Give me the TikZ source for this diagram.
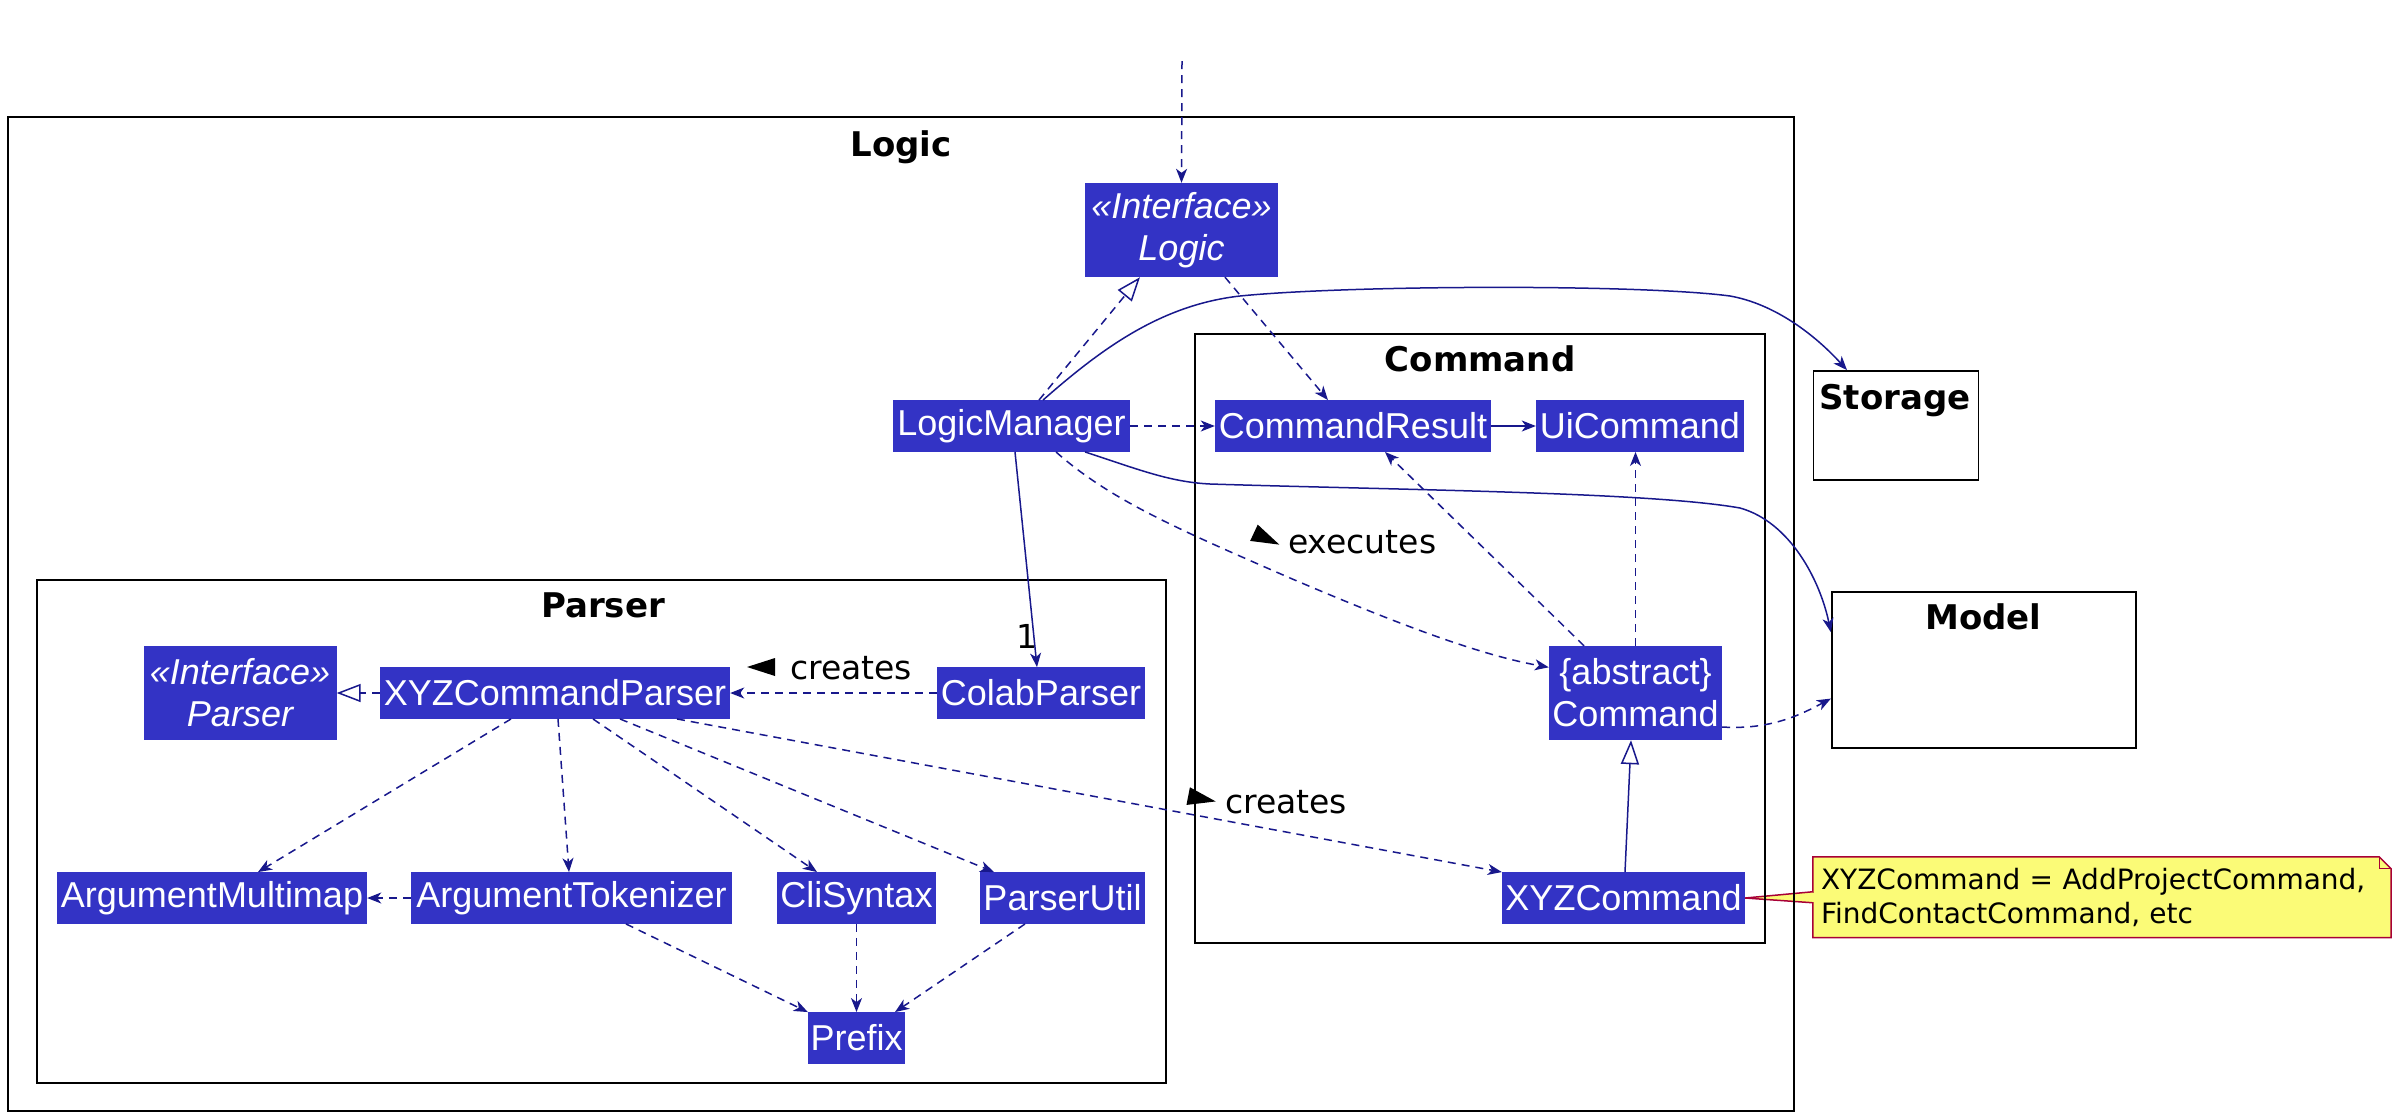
\documentclass[tikz,border=0pt]{standalone}
\usepackage{fontspec}
\setmainfont{DejaVu Sans}
\newfontfamily\nodefont{Liberation Sans}
\usetikzlibrary{arrows.meta,calc}
\definecolor{clsfill}{RGB}{51,51,197}
\definecolor{linec}{RGB}{24,24,140}
\definecolor{notefill}{RGB}{251,251,119}
\definecolor{noteline}{RGB}{168,0,54}
\tikzset{
  cls/.style={fill=clsfill, text=white, inner sep=0pt, minimum height=51.5pt,
    font=\nodefont\fontsize{36}{42}\selectfont, align=center},
  cls2/.style={cls, minimum height=94pt},
  pkgframe/.style={draw=black, line width=1.8pt},
  ttl/.style={font=\fontsize{34}{38}\selectfont\bfseries, inner sep=0pt},
  lbl/.style={font=\fontsize{33}{38}\selectfont, inner sep=0pt},
  conn/.style={draw=linec, line width=1.5pt},
  dep/.style={conn, dash pattern=on 8pt off 6pt, -{Stealth[length=14pt,width=11pt,inset=4pt]}},
  assoc/.style={conn, -{Stealth[length=14pt,width=11pt,inset=4pt]}},
  real/.style={conn, dash pattern=on 8pt off 6pt, -{Triangle[open,length=24pt,width=18pt,fill=white]}},
  inh/.style={conn, -{Triangle[open,length=24pt,width=18pt,fill=white]}},
  notebox/.style={fill=notefill, inner sep=8pt, text width=562pt, minimum height=80.5pt,
    align=left, font=\fontsize{28}{33.5}\selectfont},
  ltri/.style={fill=black}
}
\begin{document}
\begin{tikzpicture}[x=1pt,y=-1pt]
\fill[white] (0,0) rectangle (2398,1117);
\useasboundingbox (0,0) rectangle (2398,1117);

% nodes (classes)
\node[cls2, minimum width=193pt] (ilogic) at (1181.5,230) {\itshape «Interface»\\\itshape Logic};
\node[cls, minimum width=237pt] (lm) at (1011.5,426) {LogicManager};
\node[cls, minimum width=276pt] (cr) at (1353,426) {CommandResult};
\node[cls, minimum width=208pt] (ui) at (1640,426) {UiCommand};
\node[cls2, minimum width=193pt] (iparser) at (240,693) {\itshape «Interface»\\\itshape Parser};
\node[cls, minimum width=350pt] (xcp) at (555,693) {XYZCommandParser};
\node[cls, minimum width=208pt] (colab) at (1041,693) {ColabParser};
\node[cls2, minimum width=173pt] (cmd) at (1635.5,693) {\{abstract\}\\Command};
\node[cls, minimum width=310pt] (amm) at (212,898) {ArgumentMultimap};
\node[cls, minimum width=321pt] (atok) at (571.5,898) {ArgumentTokenizer};
\node[cls, minimum width=159pt] (cli) at (856.5,898) {CliSyntax};
\node[cls, minimum width=165pt] (pu) at (1062.5,898) {ParserUtil};
\node[cls, minimum width=243pt] (xc) at (1623.5,898) {XYZCommand};
\node[cls, minimum width=97pt] (prefix) at (856.5,1038) {Prefix};

% note
\node[notebox] (note) at (2102,897.25) {XYZCommand = AddProjectCommand,\\FindContactCommand, etc};
\fill[white] ([xshift=-12pt]note.north east) -- (note.north east) -- ([yshift=-12pt]note.north east) -- cycle;
\draw[noteline, line width=1.5pt] (note.north west) -- ([xshift=-12pt]note.north east) -- ([yshift=-12pt]note.north east) -- (note.south east) -- (note.south west) -- cycle;
\draw[noteline, line width=1.2pt] ([xshift=-12pt]note.north east) -- ([xshift=-12pt,yshift=-12pt]note.north east) -- ([yshift=-12pt]note.north east);
\path[fill=notefill, draw=noteline, line width=1.5pt] ([yshift=5.5pt]note.west) -- (xc.east) -- ([yshift=-5.5pt]note.west);
\fill[notefill] ([xshift=-1pt,yshift=4.6pt]note.west) rectangle ([xshift=3pt,yshift=-4.6pt]note.west);

% frames
\draw[pkgframe] (8,117) rectangle (1794,1111);
\draw[pkgframe] (1195,334) rectangle (1765,943);
\draw[pkgframe] (37,580) rectangle (1166,1083);
\node[pkgframe, minimum width=165pt, minimum height=109pt, inner sep=0pt] (storage) at (1896,425.5) {};
\node[pkgframe, minimum width=304.5pt, minimum height=156pt, inner sep=0pt] (model) at (1984,670) {};

% titles
\node[ttl, anchor=base] (tlogic) at (901,156) {Logic};
\node[ttl, anchor=base] (tcommand) at (1480,371) {Command};
\node[ttl, anchor=base] (tparser) at (603,617) {Parser};
\node[ttl, anchor=base] (tstorage) at (1895,409) {Storage};
\node[ttl, anchor=base] (tmodel) at (1983.5,629) {Model};

% connectors
\coordinate (topin) at (1182,61);
\draw[dep] (topin) -- (ilogic.north);
\draw[real] ([xshift=27.5pt]lm.north) -- ([xshift=-41.5pt]ilogic.south);
\draw[dep] ([xshift=43.5pt]ilogic.south) -- ([xshift=-25pt]cr.north);
\draw[assoc] ([xshift=31.5pt]lm.north) .. controls (1100,350) and (1160,305) .. (1240,296)
  .. controls (1350,285) and (1640,284) .. (1730,296)
  .. controls (1775,304) and (1815,335) .. ([xshift=-49pt]storage.north);
\draw[assoc] ([xshift=73.5pt]lm.south) .. controls (1140,470) and (1170,482) .. (1210,484)
  .. controls (1400,490) and (1650,492) .. (1740,508)
  .. controls (1790,522) and (1820,580) .. ([yshift=-41pt]model.north west);
\draw[dep] (lm.east) -- (cr.west);
\draw[assoc] (cr.east) -- (ui.west);
\draw[dep] ([xshift=44.5pt]lm.south) .. controls (1110,500) and (1180,530) .. (1290,578)
  .. controls (1400,625) and (1480,655) .. ([yshift=-21.5pt]cmd.north west);
\draw[dep] ([xshift=-51.5pt]cmd.north) -- ([xshift=32pt]cr.south);
\draw[dep] (cmd.north) -- (cmd.north |- ui.south);
\draw[dep] ([yshift=-34pt]cmd.east) .. controls (1770,730) and (1800,715) .. ([yshift=-107.5pt]model.north west);
\draw[inh] ([xshift=1.5pt]xc.north) -- ([xshift=-4.5pt]cmd.south);
\draw[assoc] ([xshift=3.5pt]lm.south) -- ([xshift=-4pt]colab.north);
\draw[dep] (colab.west) -- (xcp.east);
\draw[real] (xcp.west) -- (iparser.east);
\draw[dep] ([xshift=-44pt]xcp.south) -- ([xshift=46pt]amm.north);
\draw[dep] ([xshift=3pt]xcp.south) -- ([xshift=-2.5pt]atok.north);
\draw[dep] ([xshift=38pt]xcp.south) -- ([xshift=-39.5pt]cli.north);
\draw[dep] ([xshift=65pt]xcp.south) -- ([xshift=-68.5pt]pu.north);
\draw[dep] ([xshift=122pt]xcp.south) -- (xc.north west);
\draw[dep] (atok.west) -- (amm.east);
\draw[dep] ([xshift=54.5pt]atok.south) -- (prefix.north west);
\draw[dep] (cli.south) -- (prefix.north);
\draw[dep] ([xshift=-37.5pt]pu.south) -- ([xshift=38.5pt]prefix.north);

% labels
\node[lbl, anchor=base west] (mult) at (1016,648) {1};
\node[lbl, anchor=base west] (lexec) at (1288,553) {executes};
\fill[ltri, shift={(1263,537)}, rotate=-25] (-10,-9) -- (18,0) -- (-10,9) -- cycle;
\node[lbl, anchor=base west] (lcr1) at (790,679) {creates};
\fill[ltri, shift={(765,667)}, rotate=180] (-10,-9) -- (18,0) -- (-10,9) -- cycle;
\node[lbl, anchor=base west] (lcr2) at (1225,813) {creates};
\fill[ltri, shift={(1198,798)}, rotate=-11] (-10,-9) -- (18,0) -- (-10,9) -- cycle;
\end{tikzpicture}
\end{document}
